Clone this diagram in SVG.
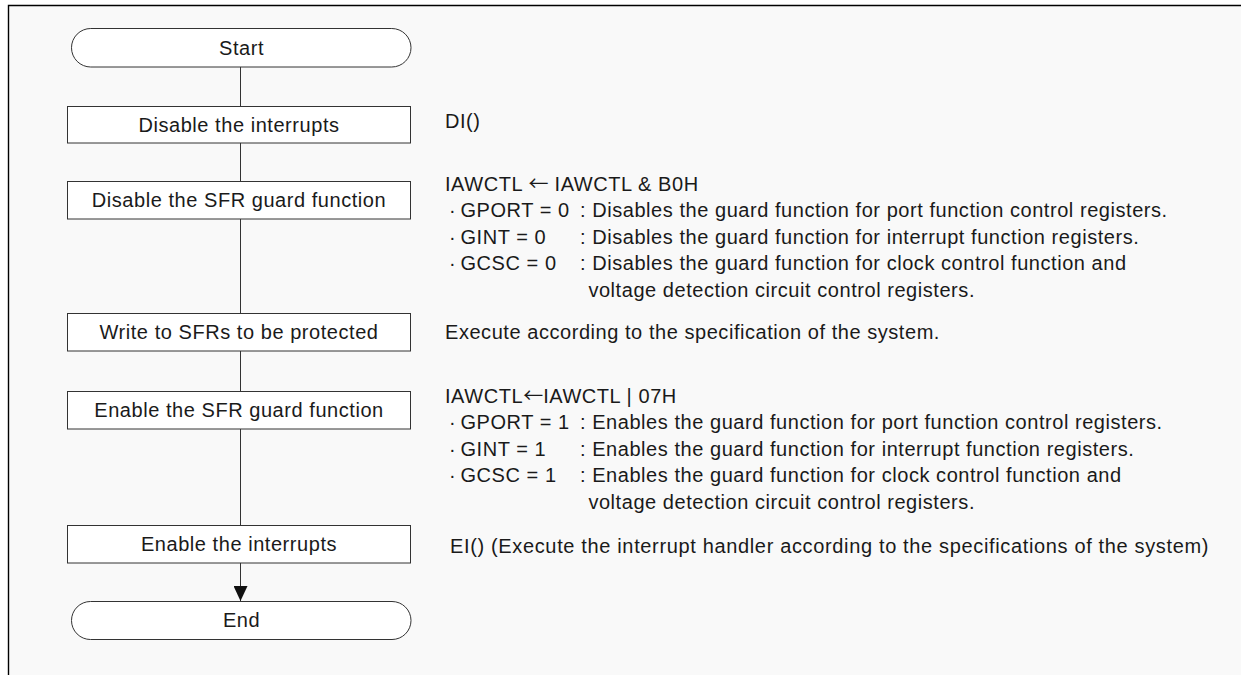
<svg xmlns="http://www.w3.org/2000/svg" width="1241" height="675" viewBox="0 0 1241 675">
  <style>
    .bg { fill: #f9f9f9; }
    .frame { fill: none; stroke: #000000; stroke-width: 1.4; }
    .box { fill: #ffffff; stroke: #333333; stroke-width: 1; }
    .term { fill: #ffffff; stroke: #333333; stroke-width: 1; }
    .flow { fill: none; stroke: #333333; stroke-width: 1; }
    text { font-family: "Liberation Sans", Arial, sans-serif; font-size: 20px; fill: #1a1a1a; letter-spacing: 0.55px; }
    .c { text-anchor: middle; }
    .arr { font-family: "Noto Sans CJK JP", sans-serif; letter-spacing: 0; }
  </style>
  <defs>
    <marker id="arrow" viewBox="0 0 15 14" refX="15" refY="7" markerWidth="15" markerHeight="14" markerUnits="userSpaceOnUse" orient="auto">
      <path d="M0,0 L15,7 L0,14 Z" fill="#111111"/>
    </marker>
  </defs>

  <!-- page background and frame -->
  <rect x="0" y="0" width="1241" height="675" fill="#ffffff"/>
  <rect class="bg" x="8.5" y="5.5" width="1232.5" height="669.5"/>
  <path class="frame" d="M8.5,675 L8.5,5.5 L1241,5.5"/>

  <!-- connectors -->
  <g id="connectors">
    <line class="flow" x1="240.5" y1="67" x2="240.5" y2="106"/>
    <line class="flow" x1="240.5" y1="143" x2="240.5" y2="181"/>
    <line class="flow" x1="240.5" y1="219" x2="240.5" y2="313"/>
    <line class="flow" x1="240.5" y1="351" x2="240.5" y2="391"/>
    <line class="flow" x1="240.5" y1="429" x2="240.5" y2="525"/>
    <line class="flow" x1="240.5" y1="563" x2="240.5" y2="601" marker-end="url(#arrow)"/>
  </g>

  <!-- flow nodes -->
  <g id="start">
    <rect class="term" x="71.5" y="28.5" width="339.5" height="38.5" rx="19.25" ry="19.25"/>
    <text class="c" x="241.5" y="55">Start</text>
  </g>
  <g id="disable-interrupts">
    <rect class="box" x="67.5" y="106.5" width="343" height="36.5"/>
    <text class="c" x="239" y="131.5">Disable the interrupts</text>
  </g>
  <g id="disable-guard">
    <rect class="box" x="67.5" y="181.5" width="343" height="37.5"/>
    <text class="c" x="239" y="207">Disable the SFR guard function</text>
  </g>
  <g id="write-sfrs">
    <rect class="box" x="67.5" y="313.5" width="343" height="37.5"/>
    <text class="c" x="239" y="339">Write to SFRs to be protected</text>
  </g>
  <g id="enable-guard">
    <rect class="box" x="67.5" y="391.5" width="343" height="37.5"/>
    <text class="c" x="239" y="417">Enable the SFR guard function</text>
  </g>
  <g id="enable-interrupts">
    <rect class="box" x="67.5" y="525.5" width="343" height="37.5"/>
    <text class="c" x="239" y="551">Enable the interrupts</text>
  </g>
  <g id="end">
    <rect class="term" x="71.5" y="601.5" width="339.5" height="38" rx="19" ry="19"/>
    <text class="c" x="241.5" y="627">End</text>
  </g>

  <!-- step notes -->
  <g id="note-di">
    <text x="445" y="128">DI()</text>
  </g>
  <g id="note-disable-guard">
    <text x="445" y="190.5">IAWCTL <tspan class="arr">←</tspan> IAWCTL &amp; B0H</text>
    <text y="217"><tspan x="449">·</tspan><tspan x="460.5">GPORT = 0</tspan><tspan x="580">: Disables the guard function for port function control registers.</tspan></text>
    <text y="243.5"><tspan x="449">·</tspan><tspan x="460.5">GINT = 0</tspan><tspan x="580">: Disables the guard function for interrupt function registers.</tspan></text>
    <text y="270"><tspan x="449">·</tspan><tspan x="460.5">GCSC = 0</tspan><tspan x="580">: Disables the guard function for clock control function and</tspan></text>
    <text x="588.4" y="296.5">voltage detection circuit control registers.</text>
  </g>
  <g id="note-write">
    <text x="445" y="338.5">Execute according to the specification of the system.</text>
  </g>
  <g id="note-enable-guard">
    <text x="445" y="402.5">IAWCTL<tspan class="arr">←</tspan>IAWCTL | 07H</text>
    <text y="429"><tspan x="449">·</tspan><tspan x="460.5">GPORT = 1</tspan><tspan x="580">: Enables the guard function for port function control registers.</tspan></text>
    <text y="455.5"><tspan x="449">·</tspan><tspan x="460.5">GINT = 1</tspan><tspan x="580">: Enables the guard function for interrupt function registers.</tspan></text>
    <text y="482"><tspan x="449">·</tspan><tspan x="460.5">GCSC = 1</tspan><tspan x="580">: Enables the guard function for clock control function and</tspan></text>
    <text x="588.4" y="508.5">voltage detection circuit control registers.</text>
  </g>
  <g id="note-ei">
    <text x="450" y="553" textLength="759" lengthAdjust="spacing">EI() (Execute the interrupt handler according to the specifications of the system)</text>
  </g>
</svg>
